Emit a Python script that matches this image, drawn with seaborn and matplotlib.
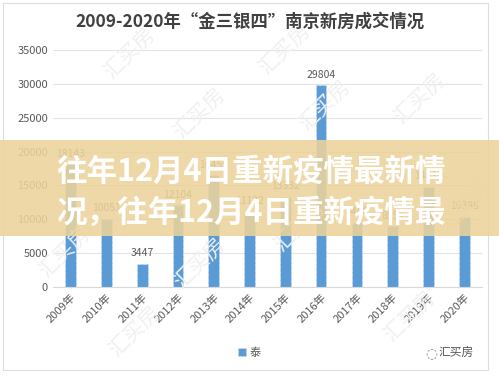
import matplotlib
matplotlib.use("Agg")
import matplotlib.pyplot as plt
import seaborn as sns
import pandas as pd
from matplotlib.patches import Rectangle

years = ["2009年", "2010年", "2011年", "2012年", "2013年", "2014年",
         "2015年", "2016年", "2017年", "2018年", "2019年", "2020年"]
sales = [18143, 10051, 3447, 12104, 16459, 11122,
         13332, 29804, 9468, 8951, 14819, 10398]
series_name = "泰"
title = "2009-2020年“金三银四”南京新房成交情况"
banner_lines = ["往年12月4日重新疫情最新情", "况，往年12月4日重新疫情最"]
y_ticks = [0, 5000, 10000, 15000, 20000, 25000, 30000, 35000]


def main() -> None:
    sns.set_style("white")
    plt.rcParams['font.family'] = ['Noto Sans CJK SC', 'DejaVu Sans']

    df = pd.DataFrame({"year": years, "sales": sales})

    fig = plt.figure(figsize=(4.99, 3.76), dpi=100)
    ax = fig.add_axes([0.106, 0.237, 0.860, 0.630])

    sns.barplot(data=df, x="year", y="sales", color="#5b9bd5", width=0.3,
                saturation=1, edgecolor="#c5dcf0", linewidth=0.7,
                linestyle="--", label=series_name, ax=ax)

    for bar, v in zip(ax.patches, sales):
        ax.text(bar.get_x() + bar.get_width() / 2, v + 800, str(v),
                ha="center", va="bottom", fontsize=7.5, color="#595959")

    ax.set_ylim(0, 35000)
    ax.set_yticks(y_ticks)
    ax.yaxis.grid(True, color="#e3e3e3", linewidth=0.8)
    ax.set_axisbelow(True)
    for s in ["top", "right", "left"]:
        ax.spines[s].set_visible(False)
    ax.spines["bottom"].set_color("#d9d9d9")
    ax.tick_params(axis="both", length=0, labelsize=8, colors="#595959")
    plt.setp(ax.get_xticklabels(), rotation=45, ha="right",
             rotation_mode="anchor")
    ax.set_xlabel("")
    ax.set_ylabel("")
    ax.set_xlim(-0.5, len(years) - 0.5)

    fig.text(0.5, 0.943, title, ha="center", va="center", fontsize=12.5,
             fontweight="bold", color="#404040")

    leg = fig.legend(loc="center", bbox_to_anchor=(0.5, 0.062), frameon=False,
                     fontsize=8, handlelength=0.7, handleheight=0.7,
                     handletextpad=0.4)
    for t in leg.get_texts():
        t.set_color("#595959")
    if ax.get_legend() is not None:
        ax.get_legend().remove()

    # card border
    fig.patches.append(Rectangle((0.006, 0.016), 0.972, 0.976, transform=fig.transFigure,
                                 fill=False, edgecolor="#dddddd", linewidth=0.8))

    # watermarks
    for (wx, wy) in [(0.26, 0.86), (0.57, 0.87), (0.40, 0.70), (0.13, 0.33),
                     (0.40, 0.30), (0.65, 0.72), (0.84, 0.74), (0.60, 0.40),
                     (0.27, 0.12), (0.82, 0.16), (0.93, 0.45)]:
        fig.text(wx, wy, "汇买房", fontsize=15, rotation=45, color="#f0f0f0",
                 ha="center", va="center", zorder=0)

    fig.text(0.915, 0.062, "汇买房", fontsize=8.5, color="#555555",
             ha="center", va="center")
    fig.text(0.865, 0.062, "◌", fontsize=10, color="#888888",
             ha="center", va="center", family=['DejaVu Sans'])

    # banner overlay
    fig.patches.append(Rectangle((0, 0.372), 1, 0.256, transform=fig.transFigure,
                                 facecolor="#ecd39c", alpha=0.88, edgecolor="none",
                                 zorder=5))
    fig.text(0.112, 0.543, banner_lines[0], fontsize=22, fontweight="bold",
             color="white", ha="left", va="center", zorder=6)
    fig.text(0.112, 0.434, banner_lines[1], fontsize=22, fontweight="bold",
             color="white", ha="left", va="center", zorder=6)

    fig.savefig("out.png", dpi=100)


if __name__ == "__main__":
    main()
